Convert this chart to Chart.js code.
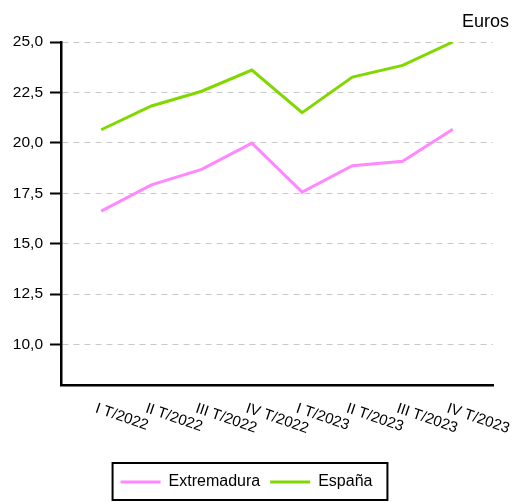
<!DOCTYPE html>
<html>
<head>
<meta charset="utf-8">
<script src="https://cdn.jsdelivr.net/npm/chart.js@4"></script>
<style>
  body { margin: 0; background: #fff; }
  #wrap { width: 523px; height: 502px; }
</style>
</head>
<body>
<div id="wrap"><canvas id="myChart"></canvas></div>
<script>
const categories = ['I T/2022', 'II T/2022', 'III T/2022', 'IV T/2022', 'I T/2023', 'II T/2023', 'III T/2023', 'IV T/2023'];
const extremadura = [16.62, 17.92, 18.69, 19.99, 17.56, 18.87, 19.09, 20.68];
const espana = [20.65, 21.83, 22.56, 23.61, 21.50, 23.26, 23.84, 25.00];
const yTicks = [10, 12.5, 15, 17.5, 20, 22.5, 25];

const FONT = "'Liberation Sans', Arial, sans-serif";

function toPoints(values) {
    return values.map((v, i) => ({ x: i, y: v }));
}

// eigene Beschriftungen: x-Achse schraeg, "Euros" und Rahmen der Legende
const extras = {
    id: 'extras',
    afterDraw(chart) {
        const ctx = chart.ctx;
        const xs = chart.scales.x;
        const area = chart.chartArea;
        ctx.save();
        ctx.fillStyle = '#000';
        ctx.font = '15px ' + FONT;
        ctx.textAlign = 'left';
        ctx.textBaseline = 'top';
        categories.forEach((label, i) => {
            const x = xs.getPixelForValue(i);
            ctx.save();
            ctx.translate(x - 3, area.bottom + 16);
            ctx.rotate(19 * Math.PI / 180);
            ctx.fillText(label, 0, 0);
            ctx.restore();
        });

        ctx.font = '18px ' + FONT;
        ctx.textAlign = 'right';
        ctx.textBaseline = 'alphabetic';
        ctx.fillText('Euros', 509, 27);

        const boxes = chart.legend.legendHitBoxes;
        if (boxes && boxes.length) {
            const left = Math.min(...boxes.map(b => b.left)) - 8;
            const right = Math.max(...boxes.map(b => b.left + b.width)) + 15;
            const top = boxes[0].top - 11;
            const bottom = boxes[0].top + boxes[0].height + 10;
            ctx.strokeStyle = '#000';
            ctx.lineWidth = 2;
            ctx.strokeRect(left, top, right - left, bottom - top);
        }
        ctx.restore();
    }
};

new Chart(document.getElementById('myChart'), {
    type: 'line',
    data: {
        datasets: [{
            label: 'Extremadura',
            data: toPoints(extremadura),
            borderColor: '#ff88ff',
            backgroundColor: '#ff88ff',
            borderWidth: 3,
            pointRadius: 0,
            tension: 0
        }, {
            label: 'España',
            data: toPoints(espana),
            borderColor: '#80d800',
            backgroundColor: '#80d800',
            borderWidth: 3,
            pointRadius: 0,
            tension: 0
        }]
    },
    options: {
        animation: false,
        responsive: true,
        maintainAspectRatio: false,
        layout: {
            padding: { top: 42, right: 30, bottom: 2, left: 0 }
        },
        scales: {
            x: {
                type: 'linear',
                min: -0.8,
                max: 7.8,
                ticks: { display: false },
                grid: { display: false },
                border: { color: '#000', width: 2.5 },
                afterFit: (scale) => { scale.height = 79; }
            },
            y: {
                min: 8,
                max: 25,
                afterBuildTicks: (scale) => {
                    scale.ticks = yTicks.map(v => ({ value: v }));
                },
                ticks: {
                    color: '#000',
                    font: { family: FONT, size: 15.5 },
                    padding: 7,
                    callback: (value) => value.toFixed(1).replace('.', ',')
                },
                grid: {
                    color: '#c8c8c8',
                    lineWidth: 1,
                    tickColor: '#000',
                    tickWidth: 2,
                    tickLength: 11,
                    tickBorderDash: []
                },
                border: { color: '#000', width: 2.5, dash: [6, 5] },
                afterFit: (scale) => { scale.width = 61; }
            }
        },
        plugins: {
            tooltip: { enabled: false },
            legend: {
                position: 'bottom',
                labels: {
                    color: '#000',
                    font: { family: FONT, size: 16 },
                    boxWidth: 40,
                    boxHeight: 3,
                    padding: 10,
                    generateLabels: (chart) => Chart.defaults.plugins.legend.labels.generateLabels(chart).map(item => {
                        item.lineWidth = 0;
                        item.fillStyle = item.strokeStyle;
                        return item;
                    })
                }
            }
        }
    },
    plugins: [extras]
});
</script>
</body>
</html>
